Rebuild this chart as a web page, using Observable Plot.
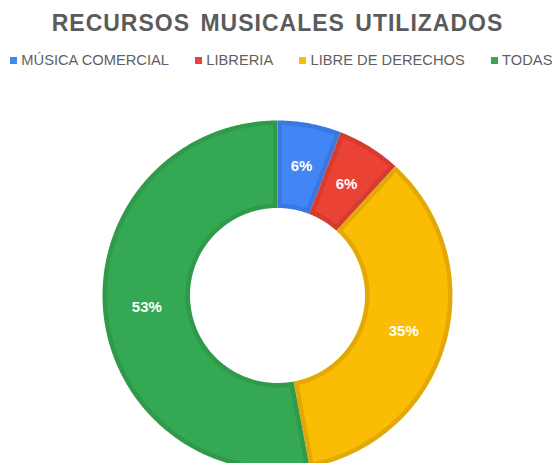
<!DOCTYPE html>
<html><head><meta charset="utf-8">
<script src="https://cdn.jsdelivr.net/npm/d3@7"></script>
<script src="https://cdn.jsdelivr.net/npm/@observablehq/plot@0.6"></script>
<style>
body{margin:0;background:#fff;font-family:"Liberation Sans",Arial,sans-serif;}
#wrap{position:relative;width:553px;height:463px;overflow:hidden;}
#title{position:absolute;top:12.2px;left:1px;width:553px;text-align:center;font-size:23px;line-height:1;font-weight:bold;color:#5b5b5b;letter-spacing:1px;word-spacing:3px;white-space:nowrap;}
#legend{position:absolute;top:53.2px;left:10px;display:flex;gap:26px;font-size:14.7px;line-height:1;color:#5f5f5f;white-space:nowrap;}
.item{display:flex;align-items:center;}
.sw{width:7px;height:7px;margin-right:4.3px;}
#chart{position:absolute;top:78px;left:0;}
</style></head><body>
<div id="wrap"><div id="title"></div><div id="legend"></div><div id="chart"></div></div>
<script>
const title = "RECURSOS MUSICALES UTILIZADOS";
const categories = ["MÚSICA COMERCIAL", "LIBRERIA", "LIBRE DE DERECHOS", "TODAS"];
const values = [1, 1, 6, 9];
const colors = ["#4285F4", "#EA4335", "#FBBC04", "#34A853"];
const borderColors = ["#3a77e0", "#d63b2f", "#e2a904", "#2e9a4a"];

document.getElementById("title").textContent = title;
const legend = document.getElementById("legend");
categories.forEach((c, i) => {
  const it = document.createElement("div"); it.className = "item";
  const sw = document.createElement("span"); sw.className = "sw"; sw.style.background = colors[i];
  const tx = document.createElement("span"); tx.textContent = c;
  it.appendChild(sw); it.appendChild(tx); legend.appendChild(it);
});

const W = 553, H = 385, cx = 277, cy = 217, R = 175, r0 = 87.5, bw = 4.5;
const total = d3.sum(values);
let acc = 0;
const slices = values.map((v, i) => {
  const a0 = acc / total * 2 * Math.PI; acc += v;
  const a1 = acc / total * 2 * Math.PI;
  return {i, cat: categories[i], v, a0, a1, pct: Math.round(v / total * 100) + "%"};
});
function sector(s, inset) {
  const ro = R - inset, ri = r0 + inset, pts = [];
  const ao0 = s.a0 + Math.asin(inset / ro), ao1 = s.a1 - Math.asin(inset / ro);
  const ai0 = s.a0 + Math.asin(inset / ri), ai1 = s.a1 - Math.asin(inset / ri);
  const n = Math.max(2, Math.ceil((ao1 - ao0) / (Math.PI / 360)));
  for (let k = 0; k <= n; k++) { const a = ao0 + (ao1 - ao0) * k / n; pts.push({x: ro * Math.sin(a), y: ro * Math.cos(a)}); }
  const m = Math.max(2, Math.ceil((ai1 - ai0) / (Math.PI / 360)));
  for (let k = m; k >= 0; k--) { const a = ai0 + (ai1 - ai0) * k / m; pts.push({x: ri * Math.sin(a), y: ri * Math.cos(a)}); }
  pts.push(pts[0]);
  return pts;
}
const marks = [];
slices.forEach(s => {
  marks.push(Plot.line(sector(s, 0), {x: "x", y: "y", fill: borderColors[s.i], stroke: "none"}));
  marks.push(Plot.line(sector(s, bw), {x: "x", y: "y", fill: colors[s.i], stroke: "none"}));
});
const rm = (R + r0) / 2;
marks.push(Plot.text(slices, {
  x: s => rm * Math.sin((s.a0 + s.a1) / 2),
  y: s => rm * Math.cos((s.a0 + s.a1) / 2),
  text: "pct", fill: "white", fontSize: 15, fontWeight: "bold",
  fontFamily: "Liberation Sans, Arial, sans-serif", textAnchor: "middle", lineAnchor: "middle"
}));
const chart = Plot.plot({
  width: W, height: H, margin: 0,
  x: {domain: [-cx, W - cx], range: [0, W], axis: null},
  y: {domain: [-(H - cy), cy], range: [H, 0], axis: null},
  marks
});
document.getElementById("chart").appendChild(chart);
</script>
</body></html>
